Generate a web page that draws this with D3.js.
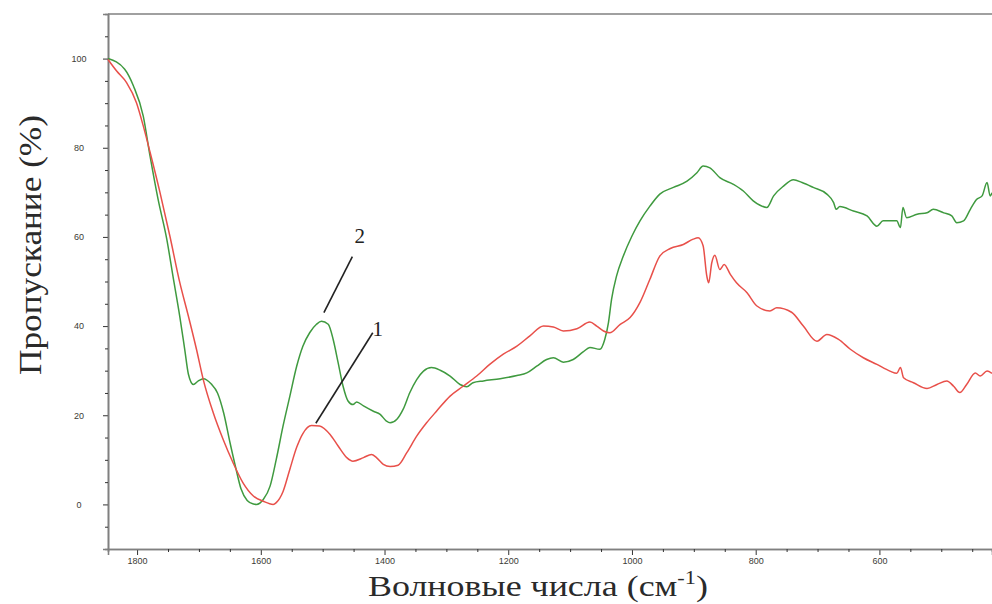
<!DOCTYPE html>
<html>
<head>
<meta charset="utf-8">
<script src="https://cdn.jsdelivr.net/npm/d3@7"></script>
<style>
  html, body { margin: 0; padding: 0; background: #fff; }
  svg { display: block; }
</style>
</head>
<body>
<script>
// curve 1 (red)
var wn1 = [1847,1833,1817,1801,1790,1779,1763,1747,1731,1717,1704,1693,1677,1661,1645,1629,1612,1596,1580,1575,1564,1553,1542,1532,1518,1505,1488,1475,1461,1451,1434,1421,1413,1402,1391,1378,1364,1348,1332,1316,1294,1273,1251,1230,1208,1186,1165,1143,1127,1111,1089,1068,1057,1046,1036,1019,1003,987,971,955,938,917,901,893,885,879,876,871,866,858,851,841,831,814,798,777,766,742,723,701,685,666,647,626,604,583,572,566,561,545,523,507,491,480,470,459,445,437,426,418];
var tr1 = [99.8,97.2,94.6,90.1,84.9,79.0,70.0,60.2,49.8,42.2,34.8,28.0,20.6,14.6,9.4,4.9,1.9,0.7,0,0.4,2.9,7.9,12.8,15.9,17.7,17.6,15.7,13.1,10.5,9.7,10.5,11.2,10.5,9.0,8.5,8.8,11.6,15.3,18.3,20.9,24.3,26.5,28.8,31.4,33.7,35.5,37.8,40.0,39.8,38.9,39.4,40.9,40.0,38.9,38.5,40.4,41.9,45.3,50.5,55.7,57.4,58.3,59.5,59.8,58.0,51.2,49.7,54.2,55.9,52.7,53.8,51.6,49.7,47.5,44.5,43.4,44.1,43.1,40.0,36.6,38.1,37.0,34.8,32.9,31.4,29.9,29.4,30.7,28.4,27.3,26.0,26.9,27.7,26.5,25.1,26.9,29.5,28.8,29.9,29.4];

// curve 2 (green)
var wn2 = [1847,1820,1806,1790,1779,1766,1752,1742,1731,1723,1717,1709,1701,1693,1680,1670,1660,1650,1641,1632,1622,1612,1607,1596,1585,1575,1564,1553,1542,1532,1521,1510,1502,1491,1483,1475,1467,1459,1451,1445,1434,1418,1407,1397,1391,1380,1370,1359,1348,1337,1324,1310,1294,1278,1267,1257,1240,1213,1186,1170,1154,1138,1127,1111,1095,1079,1068,1052,1044,1038,1033,1025,1014,1000,987,971,955,933,911,895,885,874,858,836,820,804,793,782,771,755,739,725,707,685,674,670,664,642,620,604,594,572,566,562,556,539,523,513,496,483,475,464,453,443,434,426,421,418];
var tr2 = [100.0,97.6,93.9,87.1,78.1,68.4,59.5,51.2,42.2,34.8,29.2,26.9,27.7,28.2,27.0,25.0,20.5,14.0,8.5,3.5,0.9,0.1,0,1.1,4.1,10.1,17.6,24.3,31.0,35.5,38.5,40.4,41.1,40.4,37.0,31.8,26.5,23.2,22.4,23.0,22.1,20.9,20.2,18.7,18.3,19.1,21.3,25.1,28.0,29.9,30.7,30.1,28.8,26.9,26.4,27.3,27.7,28.2,28.9,29.5,31.0,32.5,32.9,31.9,32.5,34.2,35.2,34.8,37.0,40.8,46.0,51.2,55.7,60.2,63.6,66.9,69.6,71.1,72.5,74.4,75.9,75.5,73.3,71.8,70.3,68.1,67.1,66.6,69.2,71.4,72.8,72.2,71.1,69.6,67.7,66.2,66.8,65.8,64.7,62.4,63.6,63.6,62.1,66.6,64.3,65.1,65.4,66.2,65.4,64.7,63.2,63.6,66.2,68.4,69.2,72.2,69.2,69.9];

var xTicks = [1800,1600,1400,1200,1000,800,600];
var yTicks = [0,20,40,60,80,100];

// labels "1", "2" with leader lines (data units)
var labelText = ["2","1"];
var labelPos = [[1440,58.6],[1411,37.7]];
var leaderFrom = [[1452,55.6],[1419,38.5]];
var leaderTo = [[1498,43.0],[1511,18.2]];

var W = 992, H = 604;

var x = d3.scaleLinear().domain([1847, 418]).range([108, 992]);
var y = d3.scaleLinear().domain([-10, 110]).range([549, 14]);

var svg = d3.select("body").append("svg")
    .attr("width", W)
    .attr("height", H);

// frame top
svg.append("line")
    .attr("x1", x(1847)).attr("x2", W)
    .attr("y1", y(110)).attr("y2", y(110))
    .style("stroke", "#808080").style("stroke-width", 1.6);

// minor ticks
var xMinor = d3.range(1800, 400, -50).filter(function(d){ return d % 200 !== 0; });
var yMinor = d3.range(-5, 110, 5).filter(function(d){ return d % 20 !== 0; });

var xAxis = svg.append("g")
    .attr("transform", "translate(0," + y(-10) + ")")
    .call(d3.axisBottom(x).tickValues(xTicks).tickSize(6).tickPadding(3).tickFormat(d3.format("d")));
var xAxisMinor = svg.append("g")
    .attr("transform", "translate(0," + y(-10) + ")")
    .call(d3.axisBottom(x).tickValues(xMinor).tickSize(3).tickFormat(""));

var yAxis = svg.append("g")
    .attr("transform", "translate(" + x(1847) + ",0)")
    .call(d3.axisLeft(y).tickValues(yTicks).tickSize(5).tickFormat(d3.format("d")));
var yAxisMinor = svg.append("g")
    .attr("transform", "translate(" + x(1847) + ",0)")
    .call(d3.axisLeft(y).tickValues(yMinor).tickSize(3).tickFormat(""));

[xAxis, xAxisMinor, yAxis, yAxisMinor].forEach(function(g){
  g.select(".domain").style("stroke", "#808080").style("stroke-width", 1.6);
  g.selectAll(".tick line").style("stroke", "#333").style("stroke-width", 1);
  g.selectAll(".tick text")
    .style("font-family", "'Liberation Sans', Arial, sans-serif")
    .style("font-size", "9px")
    .style("fill", "#3b3b35");
});
yAxis.selectAll(".tick text").attr("x", -29).style("text-anchor", "middle");

var line = d3.line()
    .x(function(d){ return x(d[0]); })
    .y(function(d){ return y(d[1]); })
    .curve(d3.curveMonotoneX);

var red = wn1.map(function(w, i){ return [w, tr1[i]]; });
var green = wn2.map(function(w, i){ return [w, tr2[i]]; });

svg.append("path").datum(green)
    .attr("d", line)
    .style("fill", "none").style("stroke", "#3f9a3f").style("stroke-width", 1.5);
svg.append("path").datum(red)
    .attr("d", line)
    .style("fill", "none").style("stroke", "#e8504a").style("stroke-width", 1.5);

// leader lines and labels
svg.selectAll("line.leader")
    .data(labelText)
    .enter().append("line")
    .attr("class", "leader")
    .attr("x1", function(d, i){ return x(leaderFrom[i][0]); })
    .attr("y1", function(d, i){ return y(leaderFrom[i][1]); })
    .attr("x2", function(d, i){ return x(leaderTo[i][0]); })
    .attr("y2", function(d, i){ return y(leaderTo[i][1]); })
    .style("stroke", "#222").style("stroke-width", 1.6);

svg.selectAll("text.lbl")
    .data(labelText)
    .enter().append("text")
    .attr("class", "lbl")
    .attr("x", function(d, i){ return x(labelPos[i][0]); })
    .attr("y", function(d, i){ return y(labelPos[i][1]); })
    .attr("text-anchor", "middle")
    .style("font-family", "'Liberation Serif', 'Times New Roman', serif")
    .style("font-size", "21px")
    .style("fill", "#222")
    .text(function(d){ return d; });

// axis titles (stretched to the width they take in the figure)
var xt = svg.append("text")
    .style("font-family", "'Liberation Serif', 'Times New Roman', serif")
    .style("font-size", "29px")
    .style("fill", "#2a2a2a");
xt.append("tspan").text("Волновые числа (см");
xt.append("tspan").attr("dy", -12).style("font-size", "18px").text("-1");
xt.append("tspan").attr("dy", 12).text(")");
var xw = xt.node().getBBox().width;
xt.attr("transform", "translate(368,596) scale(" + (340 / xw) + ",1)");

var yt = svg.append("text")
    .attr("text-anchor", "middle")
    .style("font-family", "'Liberation Serif', 'Times New Roman', serif")
    .style("font-size", "31px")
    .style("fill", "#2a2a2a")
    .text("Пропускание (%)");
var yw = yt.node().getBBox().width;
yt.attr("transform", "translate(41,245) rotate(-90) scale(" + (260 / yw) + ",1)");
</script>
</body>
</html>
